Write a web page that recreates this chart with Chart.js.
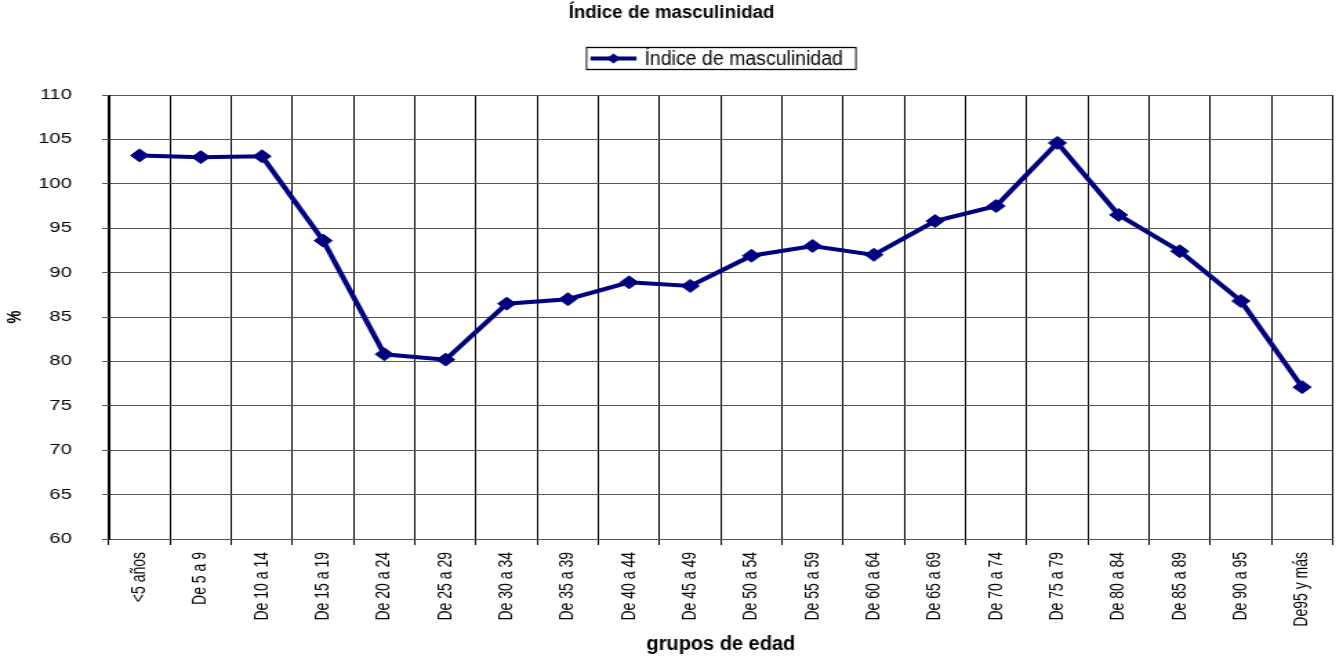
<!DOCTYPE html>
<html>
<head>
<meta charset="utf-8">
<script src="https://cdn.jsdelivr.net/npm/chart.js@4/dist/chart.umd.min.js"></script>
<style>
  html, body { margin: 0; padding: 0; background: #fff; overflow: hidden; }
  #wrap { width: 973px; height: 658px; transform: scaleX(1.3803); transform-origin: 0 0; }
  canvas { display: block; }
</style>
</head>
<body>
<div id="wrap"><canvas id="c" width="973" height="658"></canvas></div>
<script>
const categories = ["<5 años", "De 5 a 9", "De 10 a 14", "De 15 a 19", "De 20 a 24", "De 25 a 29",
  "De 30 a 34", "De 35 a 39", "De 40 a 44", "De 45 a 49", "De 50 a 54", "De 55 a 59",
  "De 60 a 64", "De 65 a 69", "De 70 a 74", "De 75 a 79", "De 80 a 84", "De 85 a 89",
  "De 90 a 95", "De95 y más"];
const indiceMasculinidad = [103.2, 103.0, 103.1, 93.6, 80.8, 80.2, 86.5, 87.0, 88.9, 88.5,
  91.9, 93.0, 92.0, 95.8, 97.5, 104.6, 96.5, 92.4, 86.8, 77.1];
const seriesName = "Índice de masculinidad";
const chartTitle = "Índice de masculinidad";
const xTitle = "grupos de edad";
const yTitle = "%";
const yMin = 60, yMax = 110, yStep = 5;

const FONT = "'Liberation Sans', Arial, sans-serif";
const NAVY = "#000080";
const S = 1343 / 973; // horizontal stretch of the wrapper

// Title, legend and x-axis title are drawn with the stretch undone (unstretched text like the reference)
const textBlocks = {
  id: "textBlocks",
  afterDraw(chart) {
    const ctx = chart.ctx;
    const ca = chart.chartArea;
    const plotCx = (ca.left + ca.right) / 2 * S;
    const canvasCx = chart.width / 2 * S;
    ctx.save();
    ctx.scale(1 / S, 1);
    ctx.fillStyle = "#000";
    ctx.textAlign = "center";
    ctx.textBaseline = "alphabetic";
    // chart title
    ctx.font = "bold 18.7px " + FONT;
    ctx.fillText(chartTitle, canvasCx, 17.5);
    // x axis title
    ctx.font = "bold 20px " + FONT;
    ctx.fillText(xTitle, plotCx, 650);
    // legend
    ctx.font = "19.5px " + FONT;
    const tw = ctx.measureText(seriesName).width;
    const padL = 4, lineLen = 46, gap = 8, padR = 13;
    const w = padL + lineLen + gap + tw + padR;
    const h = 22;
    const x0 = Math.round(plotCx - w / 2) + 0.5;
    const y0 = 47.5;
    ctx.strokeStyle = "#000";
    ctx.lineWidth = 1.3;
    ctx.strokeRect(x0, y0, w, h);
    const ly = y0 + h / 2;
    ctx.strokeStyle = NAVY;
    ctx.lineWidth = 4;
    ctx.beginPath();
    ctx.moveTo(x0 + padL, ly);
    ctx.lineTo(x0 + padL + lineLen, ly);
    ctx.stroke();
    const mx = x0 + padL + lineLen / 2, rx = 7, ry = 5;
    ctx.fillStyle = NAVY;
    ctx.beginPath();
    ctx.moveTo(mx, ly - ry); ctx.lineTo(mx + rx, ly); ctx.lineTo(mx, ly + ry); ctx.lineTo(mx - rx, ly);
    ctx.closePath(); ctx.fill();
    ctx.fillStyle = "#000";
    ctx.textAlign = "left";
    ctx.fillText(seriesName, x0 + padL + lineLen + gap, 64.5);
    ctx.restore();
  }
};

new Chart(document.getElementById("c"), {
  type: "line",
  data: {
    labels: categories,
    datasets: [{
      label: seriesName,
      data: indiceMasculinidad,
      borderColor: NAVY,
      backgroundColor: NAVY,
      borderWidth: 4,
      pointStyle: "rectRot",
      pointRadius: 6.5,
      pointHoverRadius: 6.5,
      pointBorderWidth: 1,
      pointBackgroundColor: NAVY,
      pointBorderColor: NAVY,
      tension: 0,
      fill: false
    }]
  },
  plugins: [textBlocks],
  options: {
    responsive: false,
    animation: false,
    devicePixelRatio: 1,
    layout: { padding: { top: 95, left: 0, right: 0, bottom: 0 } },
    plugins: {
      legend: { display: false },
      tooltip: { enabled: false },
      title: { display: false }
    },
    scales: {
      x: {
        type: "category",
        offset: true,
        grid: { offset: true, color: "#000", lineWidth: 1, tickLength: 6, drawTicks: true },
        border: { display: true, color: "#555", width: 1 },
        ticks: {
          autoSkip: false, minRotation: 90, maxRotation: 90,
          color: "#000", padding: 7,
          font: { family: FONT, size: 14 }
        },
        title: { display: false },
        afterFit(scale) { scale.height = 119; }
      },
      y: {
        min: yMin, max: yMax,
        grid: { color: "#555", lineWidth: 1, tickLength: 5, drawTicks: true },
        border: { display: true, color: "#000", width: 1 },
        ticks: {
          stepSize: yStep, color: "#000", padding: 22,
          font: { family: FONT, size: 14.5 }
        },
        title: {
          display: true, text: yTitle, color: "#000",
          font: { family: FONT, size: 14.5, weight: "bold" },
          padding: { top: 2.5, bottom: 0 }
        },
        afterFit(scale) { scale.width = 79; }
      }
    }
  }
});
</script>
</body>
</html>
